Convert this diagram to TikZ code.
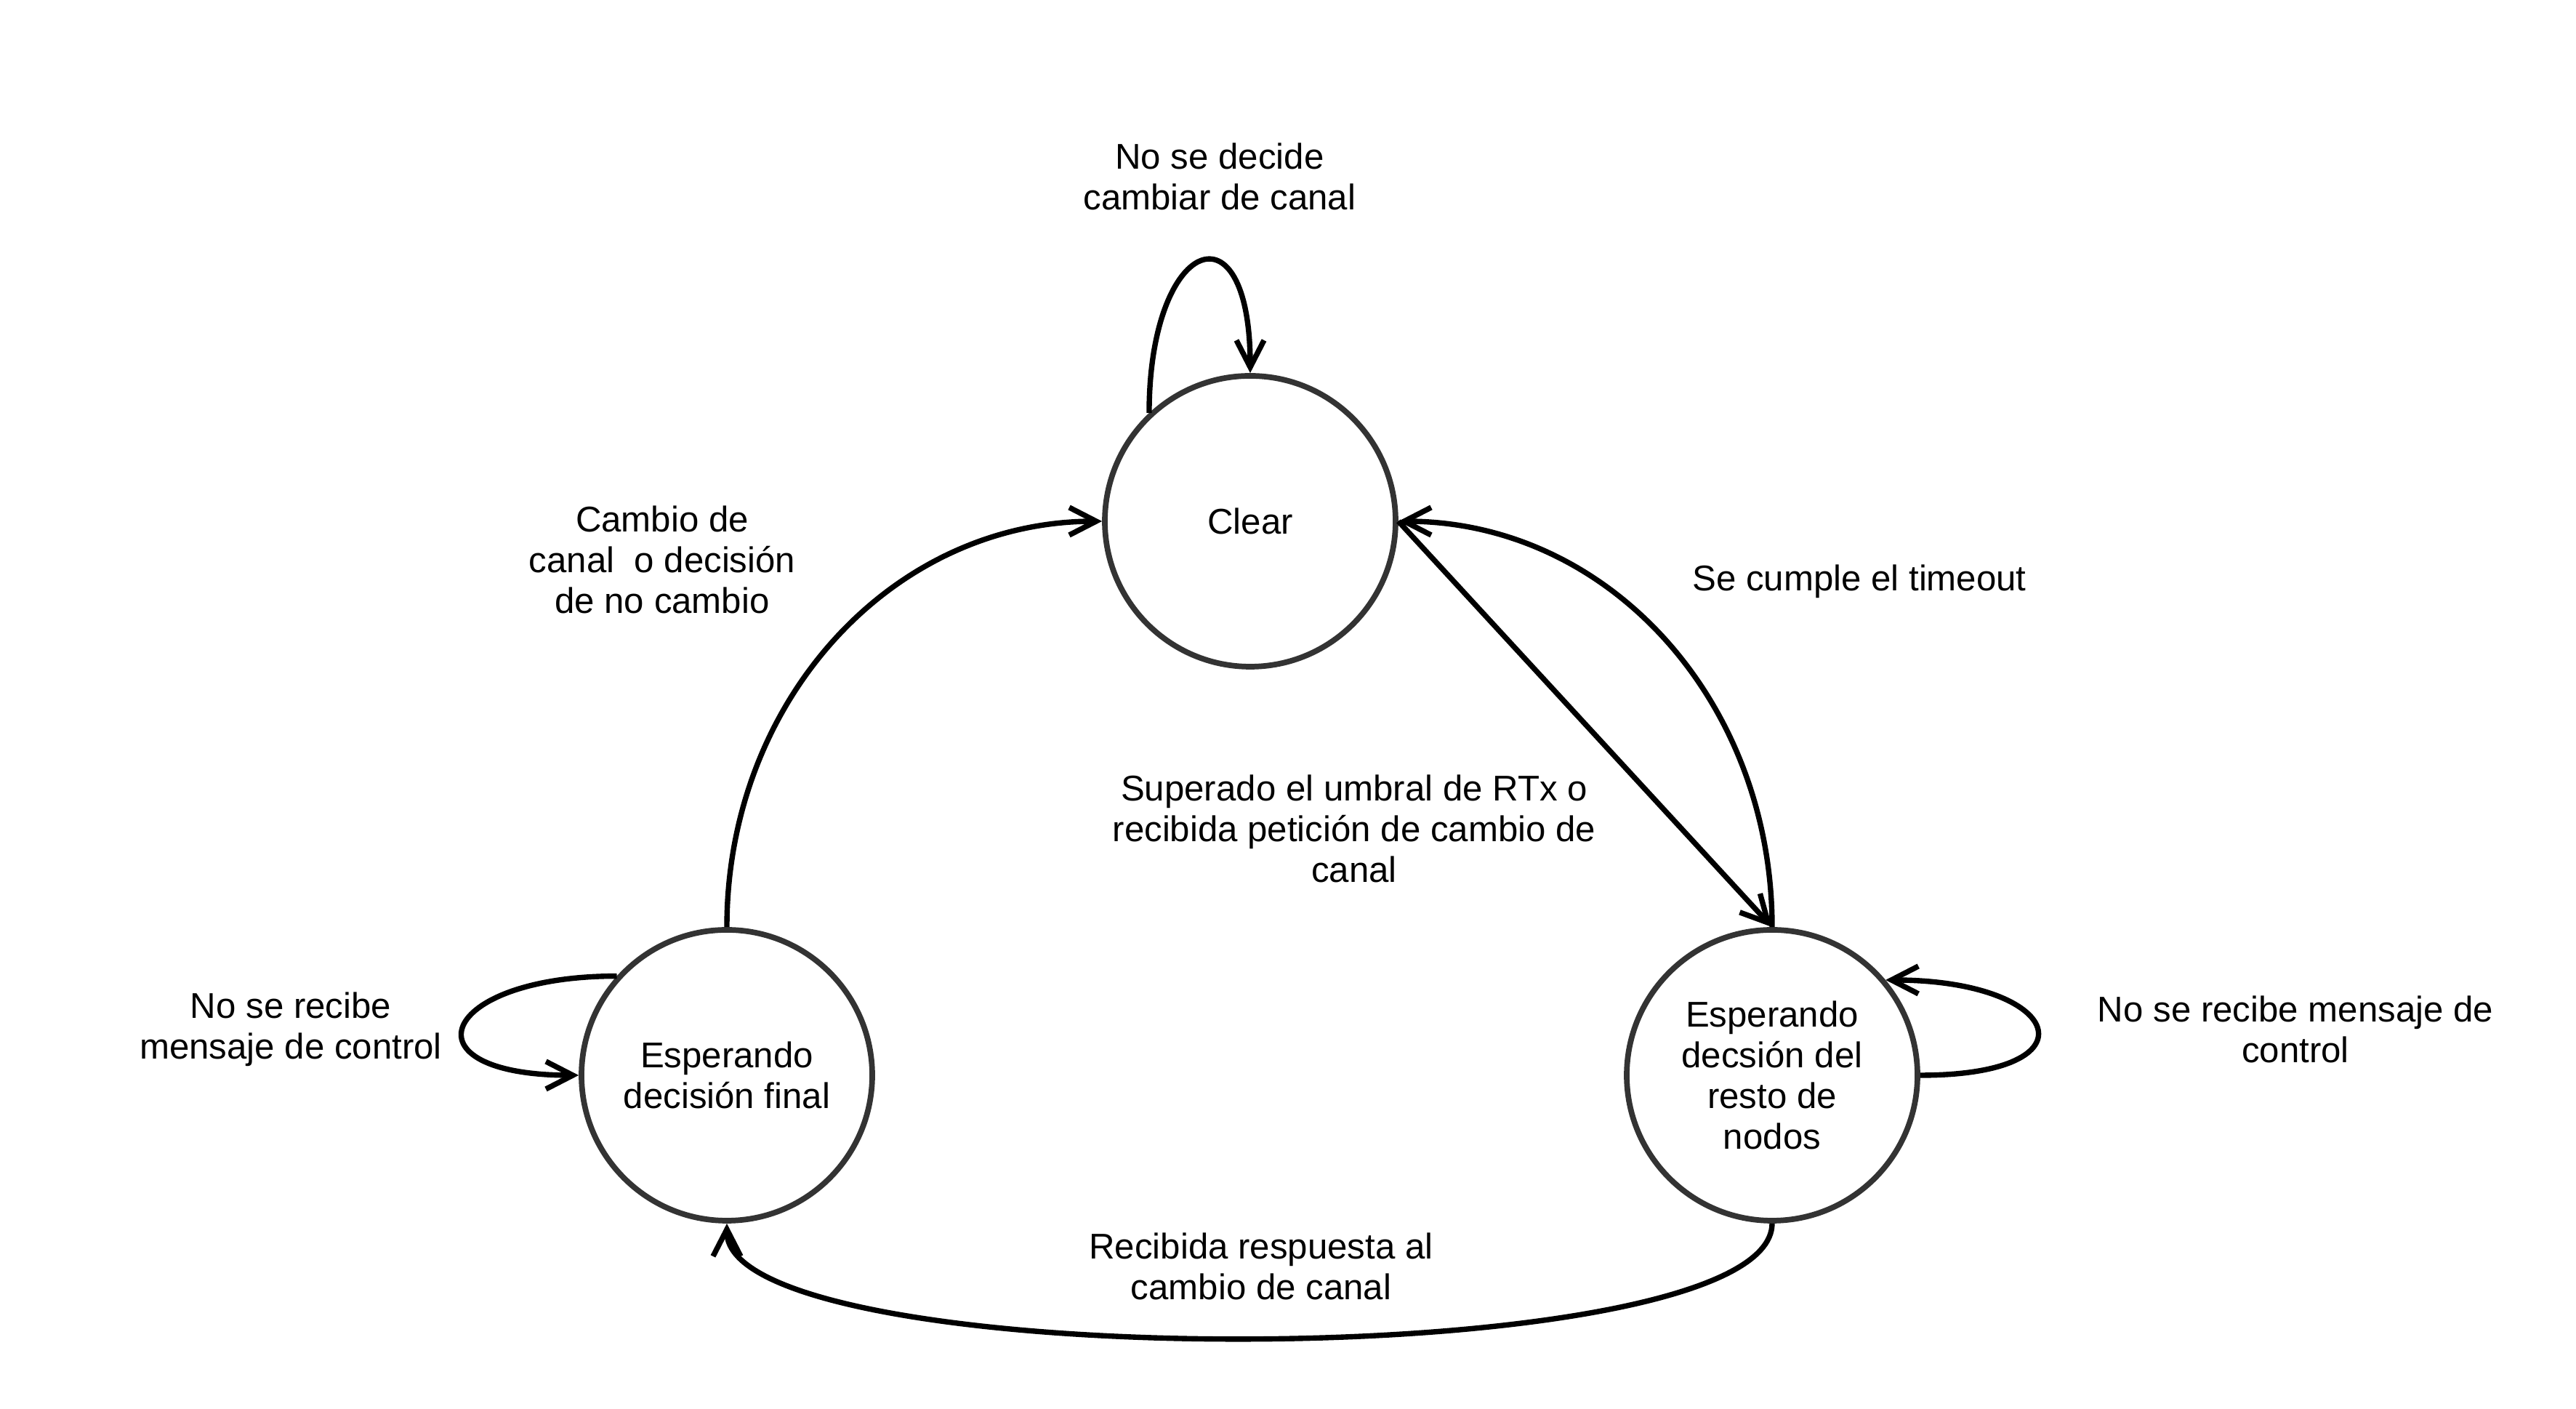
\documentclass[tikz,border=0pt]{standalone}
\usepackage{fontspec}
\setmainfont{Liberation Sans}
\usetikzlibrary{arrows.meta}

\definecolor{gris}{HTML}{333333}

\tikzset{
    estado/.style={circle, draw=gris, line width=2.2pt, minimum size=4cm, inner sep=0pt, align=center},
    etiqueta/.style={align=center},
    flecha/.style={line width=2.1pt, -{Straight Barb[length=3.7mm,width=3.8mm]}}
}

\begin{document}
\begin{tikzpicture}[font=\fontsize{14}{16}\selectfont]
            \useasboundingbox (0, 0) rectangle (35.44, 19.38);

            %%draw the states
            \node[estado] (clear) at (17.2, 12.21){Clear};
            \node[estado] (final) at (10.0, 4.59){Esperando\\decisión final};
            \node[estado] (resto) at (24.38, 4.59){Esperando\\decsión del\\resto de\\nodos};

            %%draw the transitions
            \draw[flecha] (clear.133) .. controls +(0, 2.4) and +(0, 2.4) .. (clear.north);
                \node[etiqueta] (nodecide) at (16.78, 16.95){No se decide\\cambiar de canal};

            \draw[flecha] (final.north) .. controls +(0, 3.1) and +(-2.9, 0) .. (clear.west);
                \node[etiqueta] (cambio) at (9.11, 11.68){Cambio de\\canal~ o decisión\\de no cambio};

            \draw[flecha] (clear.east) -- (resto.north);
                \node[etiqueta] (superado) at (18.63, 7.98){Superado el umbral de RTx o\\recibida petición de cambio de\\canal};

            \draw[flecha] (resto.north) .. controls +(0, 3.1) and +(2.9, 0) .. (clear.east);
                \node[etiqueta] (timeout) at (25.58, 11.38){Se cumple el timeout};

            \draw[flecha] (final.138) .. controls +(-2.45, 0) and +(-2.45, 0) .. (final.west);
                \node[etiqueta] (recibeizq) at (4.0, 5.22){No se recibe\\mensaje de control};

            \draw[flecha] (resto.east) .. controls +(2.45, 0) and +(2.45, 0) .. (resto.40);
                \node[etiqueta] (recibeder) at (31.58, 5.22){No se recibe mensaje de\\control};

            \draw[flecha] (resto.south) .. controls +(0, -2.1) and +(0, -2.1) .. (final.south);
                \node[etiqueta] (respuesta) at (17.35, 1.96){Recibida respuesta al\\cambio de canal};

        \end{tikzpicture}
\end{document}
